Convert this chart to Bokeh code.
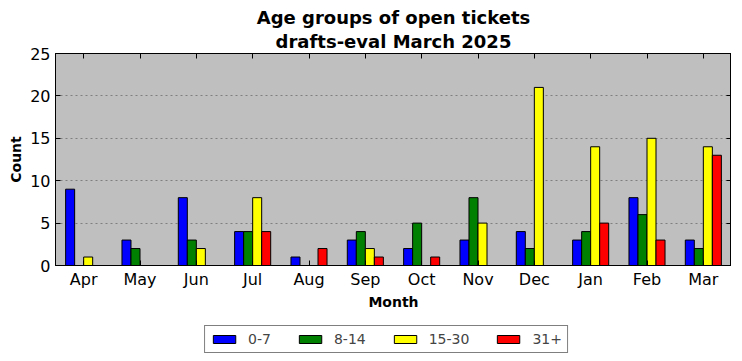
from bokeh.plotting import figure
from bokeh.models import (ColumnDataSource, FactorRange, Range1d, CategoricalAxis, LinearAxis,
                          Legend, LegendItem, Title, FixedTicker, Spacer)
from bokeh.layouts import column, row
from bokeh.transform import dodge
from bokeh.embed import file_html
from bokeh.resources import INLINE

months = ["Apr", "May", "Jun", "Jul", "Aug", "Sep", "Oct", "Nov", "Dec", "Jan", "Feb", "Mar"]
age_0_7 = [9, 3, 8, 4, 1, 3, 2, 3, 4, 3, 8, 3]
age_8_14 = [0, 2, 3, 4, 0, 4, 5, 8, 2, 4, 6, 2]
age_15_30 = [1, 0, 2, 8, 0, 2, 0, 5, 21, 14, 15, 14]
age_31p = [0, 0, 0, 4, 2, 1, 1, 0, 0, 5, 3, 13]
series_labels = ["0-7", "8-14", "15-30", "31+"]
y_ticks = [0, 5, 10, 15, 20, 25]

FONT = "DejaVu Sans"
colors = ["#0000ff", "#008000", "#ffff00", "#ff0000"]

src = ColumnDataSource(dict(month=months, a=age_0_7, b=age_8_14, c=age_15_30, d=age_31p))

p = figure(frame_width=676, frame_height=212, x_range=FactorRange(*months, range_padding=0),
           y_range=Range1d(0, 25), output_backend="svg", toolbar_location=None,
           min_border_left=0, min_border_right=0, min_border_top=0, min_border_bottom=0)
p.title = None
p.background_fill_color = "#bfbfbf"
p.border_fill_color = "white"
p.outline_line_color = "black"
p.outline_line_width = 1

cols = ["a", "b", "c", "d"]
offsets = [-0.24, -0.08, 0.08, 0.24]
for col, off, c in zip(cols, offsets, colors):
    p.vbar(x=dodge("month", off, range=p.x_range), top=col, bottom=0, width=0.16, source=src,
           fill_color=c, line_color="black", line_width=1)

# axes styling
for ax in [p.xaxis[0], p.yaxis[0]]:
    ax.major_tick_in = 5
    ax.major_tick_out = 0
    ax.minor_tick_in = 0
    ax.minor_tick_out = 0
    ax.axis_line_color = "black"
    ax.major_label_text_font = FONT
    ax.major_label_text_font_size = "16px"
    ax.major_label_text_color = "black"
    ax.axis_label_text_font = FONT
    ax.axis_label_text_font_size = "14px"
    ax.axis_label_text_font_style = "bold"
    ax.axis_label_text_color = "black"

p.yaxis[0].ticker = FixedTicker(ticks=y_ticks)
p.yaxis[0].axis_label = "Count"
p.yaxis[0].major_label_standoff = 5
p.yaxis[0].axis_label_standoff = 3
p.xaxis[0].axis_label = "Month"
p.xaxis[0].major_label_standoff = 4
p.xaxis[0].axis_label_standoff = 2

top_ax = CategoricalAxis(major_tick_in=5, major_tick_out=0, major_label_text_color=None,
                         major_label_text_font_size="1px",
                         axis_line_color="black", major_label_standoff=0)
right_ax = LinearAxis(ticker=FixedTicker(ticks=y_ticks), major_tick_in=5, major_tick_out=0,
                      minor_tick_in=0, minor_tick_out=0, major_label_text_color=None,
                      major_label_text_font_size="1px", axis_line_color="black", major_label_standoff=0)
p.add_layout(top_ax, "above")
p.add_layout(right_ax, "right")

p.xgrid.grid_line_color = None
p.ygrid.grid_line_color = "#7f7f7f"
p.ygrid.grid_line_dash = "2 3"
p.ygrid.grid_line_width = 1
p.ygrid.ticker = FixedTicker(ticks=y_ticks)

t2 = Title(text="drafts-eval March 2025", align="center", text_font=FONT, text_font_size="18px",
           text_font_style="bold", text_color="black", standoff=3)
t1 = Title(text="Age groups of open tickets", align="center", text_font=FONT, text_font_size="18px",
           text_font_style="bold", text_color="black", standoff=0)
p.add_layout(t2, "above")
p.add_layout(t1, "above")

# legend in its own strip below the chart; its proxy bars lie far outside the strip's y-range
lf = figure(frame_width=676, frame_height=46, x_range=FactorRange(*months, range_padding=0),
            y_range=Range1d(1000, 1001),
            output_backend="svg", toolbar_location=None, x_axis_location=None, y_axis_location=None,
            min_border=0)
lf.outline_line_color = None
lf.grid.grid_line_color = None
lf.background_fill_color = "white"
leg_renderers = [lf.vbar(x="month", top=col, bottom=0, width=0.16, source=src,
                         fill_color=c, line_color="black", line_width=1)
                 for col, c in zip(cols, colors)]
legend = Legend(items=[LegendItem(label=l, renderers=[r]) for l, r in zip(series_labels, leg_renderers)],
                orientation="horizontal", location="top_center",
                label_text_font=FONT, label_text_font_size="14px", label_standoff=10,
                glyph_width=28, glyph_height=10, spacing=25, padding=5, margin=13,
                border_line_color="black", border_line_width=1, background_fill_alpha=1)
lf.add_layout(legend, "center")

layout = column(Spacer(height=4),
                row(Spacer(width=5), p),
                row(Spacer(width=48), lf),
                spacing=0)

open("out.html", "w").write(file_html(layout, INLINE))
